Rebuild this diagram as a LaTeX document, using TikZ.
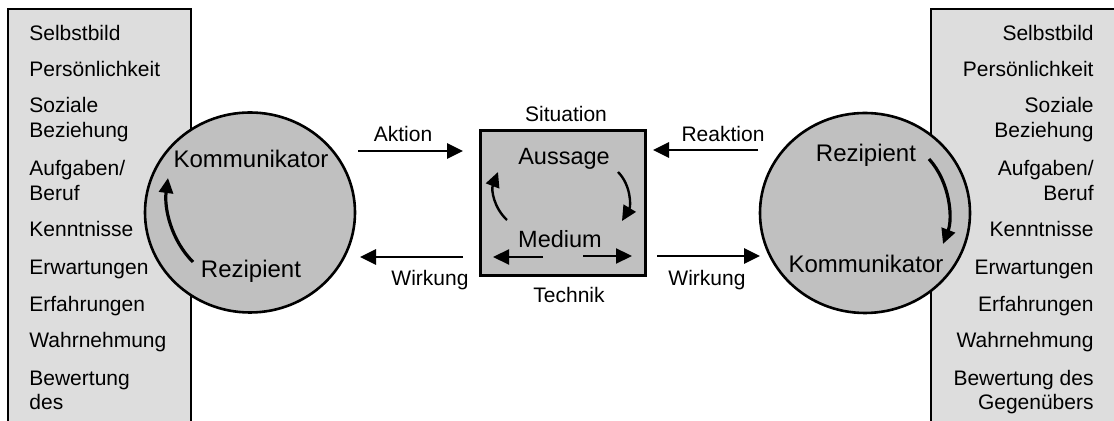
\documentclass[tikz,border=0pt]{standalone}
\usepackage{fontspec}
\setmainfont{Liberation Sans}
\usetikzlibrary{arrows.meta,shapes.geometric}
\definecolor{panelgray}{HTML}{DDDDDD}
\definecolor{shapegray}{HTML}{C0C0C0}
\tikzset{
  paneltxt/.style={font=\fontsize{10.5}{12.5}\selectfont, inner sep=0pt},
  lbl/.style={font=\fontsize{10.5}{12.5}\selectfont, inner sep=0pt, anchor=base},
  roletxt/.style={font=\fontsize{12}{14}\selectfont, inner sep=0pt, anchor=base},
  boxtxt/.style={font=\fontsize{11.75}{14}\selectfont, inner sep=0pt, anchor=base},
  bigarrow/.style={line width=1.45pt, -{Triangle[length=8pt,width=7.5pt]}},
  medarrow/.style={line width=1.1pt, -{Triangle[length=8pt,width=7.5pt]}},
  curvearrow/.style={line width=1.6pt, -{Triangle[length=7.5pt,width=7pt]}},
  boxcurve/.style={line width=1.2pt, -{Triangle[length=7.5pt,width=7pt]}},
  person/.style={ellipse, draw, line width=1.3pt, fill=shapegray, minimum width=105pt, minimum height=100pt, inner sep=0pt},
}
\begin{document}
\begin{tikzpicture}[x=0.5pt,y=-0.5pt]
\useasboundingbox (0,0) rectangle (1114,421);
% panels
\fill[panelgray] (8,9) rectangle (191,425);
\draw[line width=0.8pt] (8,425) -- (8,9) -- (191,9) -- (191,425);
\fill[panelgray] (931,9) rectangle (1118,425);
\draw[line width=0.8pt] (931,425) -- (931,9) -- (1118,9);
% left panel texts
\foreach \t/\y/\n in {Selbstbild/40.5/a, Persönlichkeit/76.5/b, Soziale/113/c, Beziehung/138/d, {Aufgaben/}/176/e, Beruf/200.5/f, Kenntnisse/237/g, Erwartungen/275/h, Erfahrungen/312/i, Wahrnehmung/348/j, Bewertung/386/k, des/409.5/l}
  \node[paneltxt, anchor=base west] (L\n) at (29,\y) {\t};
% right panel texts
\foreach \t/\y/\n in {Selbstbild/40.5/a, Persönlichkeit/76.5/b, Soziale/113/c, Beziehung/138/d, {Aufgaben/}/176/e, Beruf/200.5/f, Kenntnisse/237/g, Erwartungen/275/h, Erfahrungen/312/i, Wahrnehmung/348/j, Bewertung des/386/k, Gegenübers/409.5/l}
  \node[paneltxt, anchor=base east] (R\n) at (1094,\y) {\t};
% circles
\node[person] (pl) at (250,212.5) {};
\node[person] (pr) at (865,213) {};
\node[roletxt] (komL) at (251,168) {Kommunikator};
\node[roletxt] (rezL) at (251,278) {Rezipient};
\node[roletxt] (rezR) at (866,162) {Rezipient};
\node[roletxt] (komR) at (866,273) {Kommunikator};
\coordinate (cl1) at (193,262);
\coordinate (cl2) at (168,178);
\draw[curvearrow] (cl1) .. controls (171,240) and (164,208) .. (cl2);
\coordinate (cr1) at (929,159);
\coordinate (cr2) at (943,244);
\draw[curvearrow] (cr1) .. controls (950,182) and (953,218) .. (cr2);
% center box
\node[draw, line width=1.5pt, fill=shapegray, minimum width=82.5pt, minimum height=72.5pt, inner sep=0pt] (box) at (562.5,203.5) {};
\node[lbl] (sit) at (566,122) {Situation};
\node[lbl] (tech) at (569,303) {Technik};
\node[boxtxt] (aus) at (564,165) {Aussage};
\node[boxtxt] (med) at (560,248) {Medium};
\coordinate (bl1) at (507,220);
\coordinate (bl2) at (498,172);
\draw[boxcurve] (bl1) .. controls (494,208) and (491,190) .. (bl2);
\coordinate (br1) at (618,172);
\coordinate (br2) at (622,221);
\draw[boxcurve] (br1) .. controls (631,185) and (631,206) .. (br2);
\coordinate (ml1) at (543,257);
\coordinate (ml2) at (493,257);
\draw[medarrow] (ml1) -- (ml2);
\coordinate (mr1) at (583,256);
\coordinate (mr2) at (632,256);
\draw[medarrow] (mr1) -- (mr2);
% connectors
\coordinate (ak1) at (358,151);
\coordinate (ak2) at (463,151);
\draw[bigarrow] (ak1) -- (ak2);
\node[lbl] (akt) at (403,142) {Aktion};
\coordinate (re1) at (758,150);
\coordinate (re2) at (653,150);
\draw[bigarrow] (re1) -- (re2);
\node[lbl] (reakt) at (723,142) {Reaktion};
\coordinate (wl1) at (463,257);
\coordinate (wl2) at (360,257);
\draw[bigarrow] (wl1) -- (wl2);
\node[lbl] (wirkL) at (430,286) {Wirkung};
\coordinate (wr1) at (657,256);
\coordinate (wr2) at (760,256);
\draw[bigarrow] (wr1) -- (wr2);
\node[lbl] (wirkR) at (707,286) {Wirkung};
\end{tikzpicture}
\end{document}
